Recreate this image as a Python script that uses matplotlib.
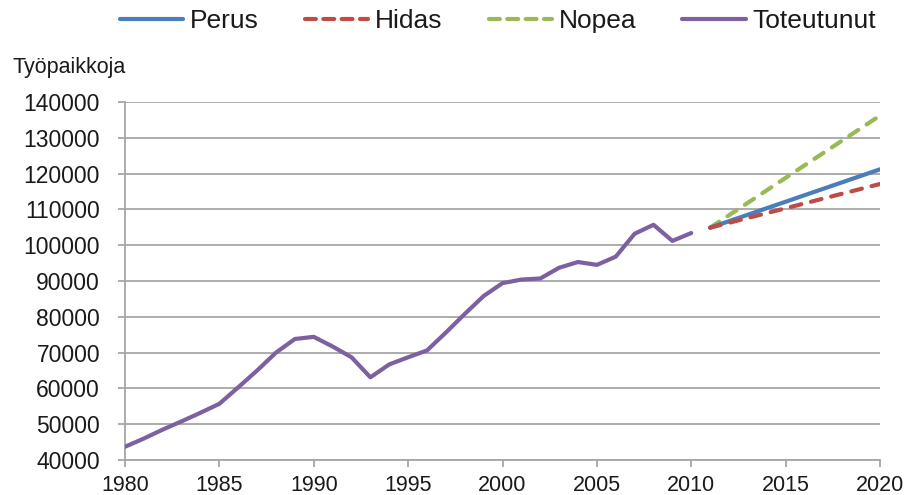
import matplotlib
matplotlib.use("Agg")
import matplotlib.pyplot as plt
from matplotlib.lines import Line2D

plt.rcParams['font.family'] = ['Liberation Sans', 'DejaVu Sans']

years_actual = list(range(1980, 2011))
toteutunut = [43700, 46000, 48500, 50800, 53200, 55700, 60300, 65000, 70000, 73800,
              74400, 71700, 68700, 63100, 66700, 68700, 70600, 75600, 80800, 85800,
              89400, 90400, 90700, 93700, 95300, 94500, 96800, 103200, 105700, 101200,
              103400]

years_fc = [2011, 2020]
perus = [104900, 121200]
hidas = [104900, 117100]
nopea = [104900, 136200]

series_names = ["Perus", "Hidas", "Nopea", "Toteutunut"]
colors = {"Perus": "#4A7EBB", "Hidas": "#BE4B48", "Nopea": "#98B954", "Toteutunut": "#7D60A0"}

y_label = "Työpaikkoja"
yticks = list(range(40000, 140001, 10000))
xticks = list(range(1980, 2021, 5))

fig = plt.figure(figsize=(9.22, 4.95), dpi=100)
ax = fig.add_axes([125/922, 35/495, 755/922, 358/495])

lw = 3.0
dash = (2.6, 2.4)
ax.plot(years_fc, nopea, color=colors["Nopea"], lw=lw, dashes=dash, dash_capstyle='round', solid_capstyle='round', zorder=3)
ax.plot(years_fc, perus, color=colors["Perus"], lw=lw, solid_capstyle='round', zorder=4)
ax.plot(years_fc, hidas, color=colors["Hidas"], lw=lw, dashes=dash, dash_capstyle='round', zorder=5)
ax.plot(years_actual, toteutunut, color=colors["Toteutunut"], lw=lw, solid_capstyle='round', solid_joinstyle='round', zorder=6)

ax.set_xlim(1980, 2020)
ax.set_ylim(40000, 140000)
ax.set_xticks(xticks)
ax.set_yticks(yticks)
ax.set_xticklabels([str(x) for x in xticks])
ax.set_yticklabels([str(y) for y in yticks])

grid_c = "#A6A6A6"
ax.yaxis.grid(True, color=grid_c, lw=1.3, zorder=0)
ax.set_axisbelow(True)
for s in ["top", "right"]:
    ax.spines[s].set_visible(False)
for s in ["left", "bottom"]:
    ax.spines[s].set_color(grid_c)
    ax.spines[s].set_linewidth(1.3)
ax.tick_params(axis='y', direction='out', length=5, width=1.3, color=grid_c, labelsize=16.5, pad=13, labelcolor='#1a1a1a')
ax.tick_params(axis='x', direction='out', length=5, width=1.3, color=grid_c, labelsize=15.5, pad=6, labelcolor='#1a1a1a')

fig.text(12/922, 1 - 68/495, y_label, fontsize=15.5, va='center', ha='left', color='#1a1a1a')

handles = [
    Line2D([], [], color=colors["Perus"], lw=lw, solid_capstyle='round'),
    Line2D([], [], color=colors["Hidas"], lw=lw, dashes=(2.6, 1.8), dash_capstyle='round'),
    Line2D([], [], color=colors["Nopea"], lw=lw, dashes=(2.6, 1.8), dash_capstyle='round'),
    Line2D([], [], color=colors["Toteutunut"], lw=lw, solid_capstyle='round'),
]
leg = fig.legend(handles, series_names, loc='center', bbox_to_anchor=(498/922, 1 - 21/495), ncol=4,
                 frameon=False, fontsize=19, handlelength=2.4, handletextpad=0.25, columnspacing=1.75,
                 labelcolor='#1a1a1a')

fig.savefig("out.png", dpi=100)
